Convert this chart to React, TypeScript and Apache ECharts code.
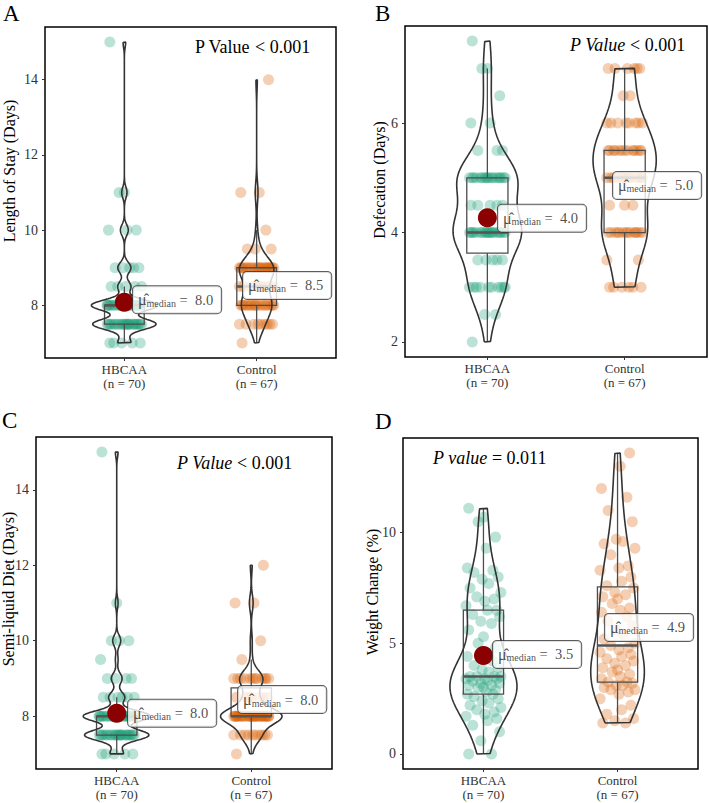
import React, { useEffect, useRef } from "react";
import * as echarts from "echarts";

// ---------- data ----------
const GROUPS = ["HBCAA", "Control"];
const PANEL_LETTERS = ["A", "B", "C", "D"];
const Y_TITLES = ["Length of Stay (Days)", "Defecation (Days)", "Semi-liquid Diet (Days)", "Weight Change (%)"];
const Y_TICKS = [[8, 10, 12, 14], [2, 4, 6], [8, 10, 12, 14], [0, 5, 10]];
const P_LABEL = ["P Value", "P Value", "P Value", "P value"];
const P_ITALIC = [false, true, true, true];
const P_REST = [" < 0.001", " < 0.001", " < 0.001", " = 0.011"];

// Panel A – Length of stay (value levels and counts)
const A_HBCAA_LEVELS = [7, 7.5, 8, 8.5, 9, 10, 11, 15];
const A_HBCAA_COUNTS = [5, 24, 25, 5, 5, 3, 2, 1];
const A_CONTROL_LEVELS = [7, 7.5, 8, 8.5, 9, 9.5, 10, 11, 14];
const A_CONTROL_COUNTS = [1, 9, 18, 10, 22, 3, 1, 2, 1];

// Panel B – Defecation
const B_HBCAA_LEVELS = [2, 2.5, 3, 3.5, 4, 4.5, 5, 5.5, 6, 6.5, 7, 7.5];
const B_HBCAA_COUNTS = [1, 2, 10, 5, 20, 5, 18, 3, 2, 1, 2, 1];
const B_CONTROL_LEVELS = [3, 3.5, 4, 4.5, 5, 5.5, 6, 6.5, 7];
const B_CONTROL_COUNTS = [6, 2, 14, 3, 13, 13, 8, 2, 6];

// Panel C – Semi-liquid diet
const C_HBCAA_LEVELS = [7, 7.5, 8, 8.5, 9, 9.5, 10, 11, 15];
const C_HBCAA_COUNTS = [5, 24, 25, 6, 4, 1, 3, 1, 1];
const C_CONTROL_LEVELS = [7, 7.5, 8, 8.5, 9, 9.5, 10, 11, 12];
const C_CONTROL_COUNTS = [1, 10, 32, 7, 12, 1, 1, 2, 1];

// Panel D – Weight change (%)
const D_HBCAA = [
  0, 0, 0.6, 1.0, 1.3, 1.5, 1.6, 1.7, 1.8, 1.9, 2.0, 2.1, 2.2, 2.3, 2.4, 2.5, 2.6,
  2.7, 2.7,
  2.8, 2.9, 3.0, 3.0, 3.1, 3.1, 3.2, 3.2, 3.3, 3.3, 3.4, 3.4, 3.4, 3.5, 3.5, 3.5,
  3.5,
  3.7, 3.8, 3.9, 4.0, 4.2, 4.4, 4.6, 4.8, 5.0, 5.3, 5.6, 5.9, 6.0, 6.2, 6.3, 6.5,
  6.5,
  6.7, 6.9, 7.0, 7.1, 7.3, 7.5, 7.7, 7.9, 8.0, 8.2, 8.3, 8.4, 9.3, 9.8, 10.5, 10.7, 11.1,
];
const D_CONTROL = [
  1.4, 1.4, 1.5, 1.6, 1.8, 2.0, 2.2, 2.5, 2.7, 2.8, 2.9, 2.9, 3.0, 3.1, 3.1, 3.2,
  3.25, 3.25,
  3.4, 3.5, 3.6, 3.7, 3.8, 3.9, 4.0, 4.1, 4.2, 4.3, 4.4, 4.5, 4.6, 4.7, 4.8,
  4.9,
  5.0, 5.2, 5.4, 5.6, 5.8, 6.0, 6.2, 6.4, 6.5, 6.6, 6.8, 7.0, 7.1, 7.2, 7.3, 7.5,
  7.6,
  7.8, 8.0, 8.3, 8.4, 8.5, 9.0, 9.3, 9.5, 9.6, 9.7, 10.5, 11.0, 11.6, 12.0, 13.0, 13.6,
];

// centrality marker (red dot) and its label positions
const DOT_Y = [8.08, 4.27, 8.08, 4.45];
const LABEL_X = [[1.065, 1.897], [1.077, 1.915], [1.084, 1.902], [1.071, 1.906]];
const LABEL_Y = [[8.15, 8.53], [4.26, 4.86], [8.08, 8.44], [4.5, 5.72]];

// fixed horizontal jitter pattern (in category units)
const JITTER = [-0.11, 0.06, -0.02, 0.12, -0.08, 0.03, 0.1, -0.13, 0.01, 0.08, -0.05, 0.13,
  -0.1, 0.04, -0.01, 0.11, -0.07, 0.07, -0.12, 0.02, 0.09, -0.04, 0.0];

// ---------- layout ----------
const GRID_RECTS = [[45, 27, 291, 331], [405, 26, 302, 331], [36, 437, 296, 332], [403, 438, 295, 331]];
const P_POS = [[195, 47], [570, 45], [177, 463], [433, 458]];
const LETTER_POS = [[3, 13], [375, 13], [2, 420], [375, 421]];
const TITLE_POS = [[9.5, 171], [379, 180], [8.5, 589], [372.5, 592]];

const SERIF = '"Liberation Serif", "Times New Roman", serif';
const COLORS = ["#1B9E77", "#D95F02"];

// ---------- helpers ----------
function expand(levels: number[], counts: number[]) {
  const out: number[] = [];
  levels.forEach((v, i) => {
    for (let k = 0; k < counts[i]; k++) out.push(v);
  });
  return out;
}
function q7(s: number[], p: number) {
  const h = (s.length - 1) * p;
  const lo = Math.floor(h);
  const hi = Math.min(lo + 1, s.length - 1);
  return s[lo] + (h - lo) * (s[hi] - s[lo]);
}
function boxStats(x: number[]) {
  const s = [...x].sort((a, b) => a - b);
  const q1 = q7(s, 0.25), med = q7(s, 0.5), q3 = q7(s, 0.75);
  const iqr = q3 - q1;
  const lo = s.find((v) => v >= q1 - 1.5 * iqr) as number;
  const hi = [...s].reverse().find((v) => v <= q3 + 1.5 * iqr) as number;
  return { s, q1, med, q3, lo, hi };
}
function bwNrd0(s: number[]) {
  const n = s.length;
  const mean = s.reduce((a, b) => a + b, 0) / n;
  const sd = Math.sqrt(s.reduce((a, b) => a + (b - mean) * (b - mean), 0) / (n - 1));
  const iqr = q7(s, 0.75) - q7(s, 0.25);
  let lo = Math.min(sd, iqr / 1.34);
  if (!(lo > 0)) lo = sd || Math.abs(s[0]) || 1;
  return 0.9 * lo * Math.pow(n, -0.2);
}
function kde(s: number[], m = 512) {
  const bw = bwNrd0(s);
  const a = s[0], b = s[s.length - 1];
  const ys: number[] = [], ds: number[] = [];
  const norm = 1 / (s.length * bw * Math.sqrt(2 * Math.PI));
  for (let i = 0; i < m; i++) {
    const y = a + ((b - a) * i) / (m - 1);
    let d = 0;
    for (const v of s) {
      const z = (y - v) / bw;
      d += Math.exp(-0.5 * z * z);
    }
    ys.push(y);
    ds.push(d * norm);
  }
  return { ys, ds };
}

const PANEL_DATA: number[][][] = [
  [expand(A_HBCAA_LEVELS, A_HBCAA_COUNTS), expand(A_CONTROL_LEVELS, A_CONTROL_COUNTS)],
  [expand(B_HBCAA_LEVELS, B_HBCAA_COUNTS), expand(B_CONTROL_LEVELS, B_CONTROL_COUNTS)],
  [expand(C_HBCAA_LEVELS, C_HBCAA_COUNTS), expand(C_CONTROL_LEVELS, C_CONTROL_COUNTS)],
  [D_HBCAA, D_CONTROL],
];

function buildOption() {
  const grid: any[] = [], xAxis: any[] = [], yAxis: any[] = [], series: any[] = [], graphic: any[] = [];

  PANEL_DATA.forEach((groups, p) => {
    const [l, t, w, h] = GRID_RECTS[p];
    grid.push({ left: l, top: t, width: w, height: h, show: true, borderColor: "#000", borderWidth: 1.5, backgroundColor: "transparent", containLabel: false, outerBoundsMode: "none" });
    const all = groups[0].concat(groups[1]);
    const mn = Math.min(...all), mx = Math.max(...all);
    const pad = (mx - mn) * 0.05;
    const ns = groups.map((g) => g.length);
    xAxis.push({
      type: "value", gridIndex: p, min: 0.4, max: 2.6, position: "bottom",
      axisLine: { show: false, onZero: false }, splitLine: { show: false },
      axisTick: { show: true, length: 3, customValues: [1, 2], lineStyle: { color: "#333", width: 1 } },
      axisLabel: {
        customValues: [1, 2], margin: 4, fontSize: 13, lineHeight: 14, color: "#333", fontFamily: SERIF,
        formatter: (v: number) => `${GROUPS[Math.round(v) - 1]}\n(n = ${ns[Math.round(v) - 1]})`,
      },
    });
    yAxis.push({
      type: "value", gridIndex: p, min: mn - pad, max: mx + pad, position: "left",
      axisLine: { show: false, onZero: false }, splitLine: { show: false },
      axisTick: { show: true, length: 3, customValues: Y_TICKS[p], lineStyle: { color: "#333", width: 1 } },
      axisLabel: { customValues: Y_TICKS[p], margin: 7, fontSize: 14, color: "#333", fontFamily: SERIF, formatter: (v: number) => String(v) },
    });

    // jittered points
    groups.forEach((vals, g) => {
      series.push({
        type: "scatter", xAxisIndex: p, yAxisIndex: p, silent: true, z: 2,
        symbolSize: 11,
        itemStyle: { color: COLORS[g], opacity: 0.3 },
        data: vals.map((v, i) => [g + 1 + JITTER[i % JITTER.length], v]),
      });
    });

    // boxplots
    const bs = groups.map((g) => boxStats(g));
    series.push({
      type: "custom", xAxisIndex: p, yAxisIndex: p, silent: true, z: 3,
      encode: { x: 0, y: [1, 2, 3, 4, 5] },
      data: bs.map((b, g) => [g + 1, b.q1, b.med, b.q3, b.lo, b.hi]),
      renderItem: (params: any, api: any) => {
        const c = api.value(0);
        const pq1 = api.coord([c, api.value(1)]);
        const pmed = api.coord([c, api.value(2)]);
        const pq3 = api.coord([c, api.value(3)]);
        const plo = api.coord([c, api.value(4)]);
        const phi = api.coord([c, api.value(5)]);
        const hw = api.size([0.15, 0])[0];
        const st = { stroke: "#4d4d4d", lineWidth: 1.3, fill: "none" };
        return {
          type: "group",
          children: [
            { type: "line", shape: { x1: plo[0], y1: plo[1], x2: pq1[0], y2: pq1[1] }, style: st },
            { type: "line", shape: { x1: pq3[0], y1: pq3[1], x2: phi[0], y2: phi[1] }, style: st },
            { type: "rect", shape: { x: pq3[0] - hw, y: pq3[1], width: 2 * hw, height: pq1[1] - pq3[1] }, style: st },
            { type: "line", shape: { x1: pmed[0] - hw, y1: pmed[1], x2: pmed[0] + hw, y2: pmed[1] }, style: { stroke: "#555", lineWidth: 2.6 } },
          ],
        };
      },
    });

    // violins (scale = "area", width 0.5)
    const dens = groups.map((g) => kde([...g].sort((a, b) => a - b)));
    const maxD = Math.max(...dens.map((d) => Math.max(...d.ds)));
    dens.forEach((d, g) => {
      const c = g + 1;
      const pts: number[][] = [];
      for (let i = 0; i < d.ys.length; i++) pts.push([c - 0.25 * (d.ds[i] / maxD), d.ys[i]]);
      for (let i = d.ys.length - 1; i >= 0; i--) pts.push([c + 0.25 * (d.ds[i] / maxD), d.ys[i]]);
      pts.push(pts[0]);
      series.push({
        type: "line", xAxisIndex: p, yAxisIndex: p, silent: true, z: 4,
        symbol: "none", smooth: false,
        lineStyle: { color: "#333", width: 1.6 },
        data: pts,
      });
    });

    // centrality dot
    series.push({
      type: "scatter", xAxisIndex: p, yAxisIndex: p, silent: true, z: 5,
      symbolSize: 19, itemStyle: { color: "#8B0000", opacity: 1 },
      data: [[1, DOT_Y[p]]],
    });

    // centrality labels
    series.push({
      type: "scatter", xAxisIndex: p, yAxisIndex: p, silent: true, z: 6,
      symbolSize: 0,
      data: bs.map((b, g) => ({
        value: [LABEL_X[p][g], LABEL_Y[p][g]],
        label: {
          show: true, position: "right", distance: 0,
          formatter: `{mu|\u03bc\u0302}{sub|median}{eq| =  ${b.med.toFixed(1)}}`,
          backgroundColor: "#fff", borderColor: "#333", borderWidth: 1, borderRadius: 4,
          padding: [3, 8, 3, 5],
          rich: {
            mu: { fontFamily: SERIF, fontSize: 16, lineHeight: 21, color: "#222", verticalAlign: "middle" },
            sub: { fontFamily: SERIF, fontSize: 10, lineHeight: 10, color: "#222", verticalAlign: "bottom", padding: [0, 0, 2, 0] },
            eq: { fontFamily: SERIF, fontSize: 14.5, lineHeight: 21, color: "#222", verticalAlign: "middle" },
          },
        },
      })),
    });

    // texts
    graphic.push({
      type: "text", x: P_POS[p][0], y: P_POS[p][1], silent: true,
      style: {
        text: `{a|${P_LABEL[p]}}{b|${P_REST[p]}}`,
        verticalAlign: "middle", textAlign: "left",
        rich: {
          a: { fontFamily: SERIF, fontSize: 18, fontStyle: P_ITALIC[p] ? "italic" : "normal", fill: "#000" },
          b: { fontFamily: SERIF, fontSize: 18, fill: "#000" },
        },
      },
    });
    graphic.push({
      type: "text", x: LETTER_POS[p][0], y: LETTER_POS[p][1], silent: true,
      style: { text: PANEL_LETTERS[p], fontFamily: SERIF, fontSize: 23, fill: "#000", verticalAlign: "middle", textAlign: "left" },
    });
    graphic.push({
      type: "text", x: TITLE_POS[p][0], y: TITLE_POS[p][1], rotation: Math.PI / 2, silent: true,
      style: { text: Y_TITLES[p], fontFamily: SERIF, fontSize: 16, fill: "#000", verticalAlign: "middle", textAlign: "center" },
    });
  });

  return { animation: false, backgroundColor: "#fff", grid, xAxis, yAxis, series, graphic };
}

export default function App() {
  const ref = useRef<HTMLDivElement>(null);
  useEffect(() => {
    const chart = echarts.init(ref.current as HTMLDivElement, null, { renderer: "svg" });
    chart.setOption(buildOption() as any);
    return () => chart.dispose();
  }, []);
  return <div ref={ref} style={{ position: "fixed", left: 0, top: 0, width: 709, height: 803, background: "#fff" }} />;
}
